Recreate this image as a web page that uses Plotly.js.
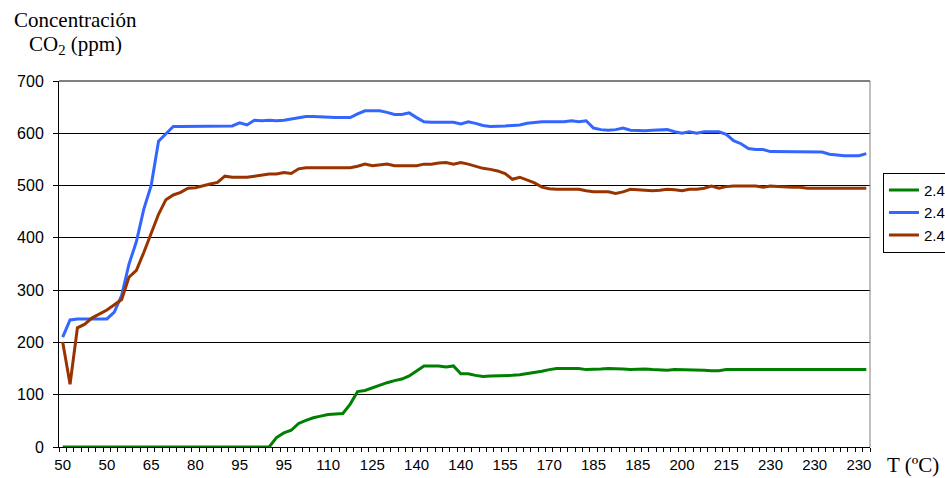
<!DOCTYPE html>
<html>
<head>
<meta charset="utf-8">
<script src="https://cdn.plot.ly/plotly-3.0.1.min.js"></script>
<style>html,body{margin:0;padding:0;background:#fff;}#chart{width:945px;height:478px;}</style>
</head>
<body>
<div id="chart"></div>
<script>
// Axis tick labels (temperature, ºC), one every 6 samples
const tickLabels = ['50','50','65','80','95','95','110','125','140','140','155','170','185','185','200','215','230','230','230'];
const labelStep = 6;

// Series names
const seriesNames = ['2.4', '2.4', '2.4'];

// CO2 concentration (ppm), one value per sample
const greenVals = [
  0,0,0,0,0,0,0,0,0,0,
  0,0,0,0,0,0,0,0,0,0,
  0,0,0,0,0,0,0,0,0,18,
  27,32,45,51,56,59,62,63,64,82,
  106,108,113,119,123,127,130,136,146,155,
  155,155,153,155,140,140,137,135,136,136,
  137,137,138,140,142,145,148,150,150,150,
  150,148,148,149,150,150,149,148,149,149,
  148,147,147,148,148,148,147,147,146,146,
  148,148,148,148,148,148,148,148,148,148,
  148,148,148,148,148,148,148,148,148,148
];
const blueVals = [
  210,243,245,245,245,245,245,258,290,350,
  393,455,500,585,600,613,613,613,613,613,
  613,613,614,614,620,616,625,624,625,624,
  625,627,630,632,632,631,631,630,630,630,
  637,643,643,643,640,636,636,639,630,622,
  621,621,621,621,618,622,619,615,613,613,
  614,615,616,619,621,622,622,622,622,624,
  622,624,610,607,606,607,610,606,605,605,
  606,607,607,603,600,603,600,603,603,603,
  598,586,580,571,569,569,565,565,565,565,
  565,565,565,564,560,558,557,557,557,561
];
const redVals = [
  201,120,228,235,247,255,262,272,282,325,
  338,372,407,445,473,482,487,495,496,500,
  503,506,518,516,516,516,518,520,522,522,
  525,523,532,534,534,534,534,534,534,534,
  537,541,538,539,541,538,538,538,538,541,
  541,543,544,541,544,541,537,533,531,528,
  523,512,516,511,505,497,494,493,493,493,
  493,490,488,488,488,485,488,493,492,491,
  490,491,493,492,490,493,493,495,499,495,
  498,499,499,499,499,497,499,498,497,497,
  497,495,495,495,495,495,495,495,495,495
];

const seriesVals = [greenVals, blueVals, redVals];
const seriesColors = ['#008000', '#3366FF', '#993300'];

const idx = greenVals.map((_, i) => i);
const tickIdx = tickLabels.map((_, k) => k * labelStep);
// category boundaries for the tick marks
const boundaries = idx.concat([idx.length]).map(i => i - 0.5);

const traces = seriesVals.map((vals, s) => ({
  x: idx,
  y: vals,
  type: 'scatter',
  mode: 'lines',
  name: seriesNames[s],
  legendgroup: 'g' + s,
  xaxis: s === 2 ? 'x2' : 'x',
  yaxis: 'y',
  line: {color: seriesColors[s], width: 3},
  hoverinfo: 'y'
}));

const serif = 'Liberation Serif, Times New Roman, serif';
const sans = 'Liberation Sans, Arial, sans-serif';
const xRange = [-0.5, idx.length - 0.5];

const layout = {
  width: 945,
  height: 478,
  margin: {l: 59, r: 75, t: 81, b: 31, autoexpand: false},
  paper_bgcolor: '#fff',
  plot_bgcolor: '#fff',
  showlegend: true,
  legend: {
    x: 1.016, y: 0.749, xanchor: 'left', yanchor: 'top',
    bordercolor: '#000', borderwidth: 1,
    font: {family: sans, size: 15, color: '#000'},
    tracegroupgap: 10,
    traceorder: 'normal'
  },
  xaxis: {
    range: xRange,
    tickmode: 'array',
    tickvals: boundaries,
    showticklabels: false,
    ticks: 'outside',
    ticklen: 4,
    tickcolor: '#000',
    tickwidth: 1,
    showgrid: false,
    zeroline: false,
    showline: true,
    linecolor: '#000',
    linewidth: 1
  },
  xaxis2: {
    overlaying: 'x',
    anchor: 'y',
    side: 'bottom',
    range: xRange,
    tickmode: 'array',
    tickvals: tickIdx,
    ticktext: tickLabels,
    ticks: 'outside',
    ticklen: 4,
    tickcolor: 'rgba(0,0,0,0)',
    showgrid: false,
    zeroline: false,
    showline: false,
    tickfont: {family: sans, size: 15, color: '#000'}
  },
  yaxis: {
    range: [0, 700],
    tickmode: 'linear',
    tick0: 0,
    dtick: 100,
    ticks: 'outside',
    ticklen: 5,
    tickcolor: '#000',
    showgrid: true,
    gridcolor: '#000',
    gridwidth: 1,
    zeroline: false,
    showline: true,
    linecolor: '#000',
    linewidth: 1,
    ticklabelstandoff: 6,
    tickfont: {family: sans, size: 16, color: '#000'}
  },
  shapes: [
    {type: 'line', xref: 'paper', yref: 'paper', x0: 0, x1: 1, y0: 1, y1: 1, line: {color: '#000', width: 1}},
    {type: 'line', xref: 'paper', yref: 'paper', x0: 1, x1: 1, y0: 0, y1: 1, line: {color: '#808080', width: 1}}
  ],
  annotations: [
    {text: 'Concentración', xref: 'paper', yref: 'paper', x: -0.058, y: 1.167, xanchor: 'left', yanchor: 'middle', showarrow: false, font: {family: serif, size: 21, color: '#000'}},
    {text: 'CO<sub>2</sub> (ppm)', xref: 'paper', yref: 'paper', x: -0.039, y: 1.098, xanchor: 'left', yanchor: 'middle', showarrow: false, font: {family: serif, size: 21, color: '#000'}},
    {text: 'T (ºC)', xref: 'paper', yref: 'paper', x: 1.019, y: -0.049, xanchor: 'left', yanchor: 'middle', showarrow: false, font: {family: serif, size: 21, color: '#000'}}
  ]
};

Plotly.newPlot('chart', traces, layout, {displayModeBar: false, staticPlot: true});
</script>
</body>
</html>
